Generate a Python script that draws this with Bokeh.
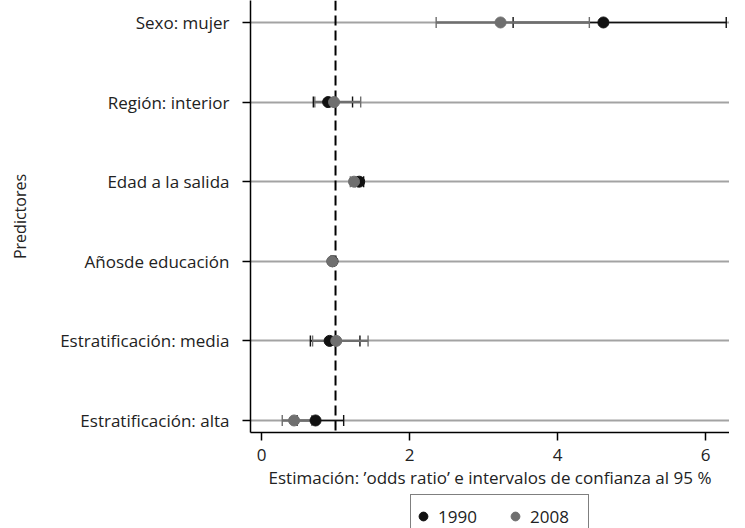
from bokeh.plotting import figure
from bokeh.layouts import column
from bokeh.models import (ColumnDataSource, Whisker, TeeHead, Span, Range1d,
                          FixedTicker, Legend, LegendItem)
from bokeh.embed import file_html
from bokeh.resources import INLINE

# ---- data ----
predictors = ["Estratificación: alta", "Estratificación: media", "Añosde educación",
              "Edad a la salida", "Región: interior", "Sexo: mujer"]
est_1990 = [0.73, 0.92, 0.96, 1.32, 0.90, 4.62]
low_1990 = [0.48, 0.66, 0.94, 1.27, 0.70, 3.40]
high_1990 = [1.11, 1.33, 0.98, 1.38, 1.23, 6.28]
est_2008 = [0.44, 1.01, 0.955, 1.25, 0.98, 3.23]
low_2008 = [0.28, 0.69, 0.94, 1.20, 0.72, 2.36]
high_2008 = [0.68, 1.44, 0.97, 1.30, 1.34, 4.43]
x_ticks = [0, 2, 4, 6]
years = ["1990", "2008"]
reference_or = 1.0
x_title = "Estimación: ’odds ratio’ e intervalos de confianza al 95 %"
y_title = "Predictores"

FONT = "Open Sans"
FS = "17px"
C1990 = "#111111"
C2008 = "#6f6f6f"

ys = list(range(len(predictors)))
src90 = ColumnDataSource(dict(y=ys, est=est_1990, lo=low_1990, hi=high_1990))
src08 = ColumnDataSource(dict(y=ys, est=est_2008, lo=low_2008, hi=high_2008))

p = figure(frame_width=479, frame_height=432, output_backend="svg", toolbar_location=None,
           x_range=Range1d(-0.149, 6.324), y_range=Range1d(-0.151, 5.276),
           min_border_left=250, min_border_top=0, min_border_right=0,
           min_border_bottom=0, outline_line_color=None,
           background_fill_color="white", border_fill_color="white")

# grid: horizontal grey lines at each predictor
p.xgrid.visible = False
p.ygrid.ticker = FixedTicker(ticks=ys)
p.ygrid.grid_line_color = "#a3a3a3"
p.ygrid.grid_line_width = 2

# reference line at OR = 1
p.add_layout(Span(location=reference_or, dimension="height", line_color="black",
                  line_width=2, line_dash="10 5", level="underlay"))

# CIs and points
for src, col, lw in ((src90, C1990, 1.6), (src08, C2008, 2.4)):
    p.add_layout(Whisker(source=src, base="y", lower="lo", upper="hi", dimension="width",
                         line_color=col, line_width=lw,
                         lower_head=TeeHead(size=11, line_color=col, line_width=1.4),
                         upper_head=TeeHead(size=11, line_color=col, line_width=1.4)))

p.scatter("est", "y", source=src90, size=11, fill_color=C1990, line_color=C1990)
p.scatter("est", "y", source=src08, size=11, fill_color=C2008, line_color=C2008)

# axes
xa = p.xaxis[0]
xa.ticker = FixedTicker(ticks=x_ticks)
xa.axis_label = x_title
ya = p.yaxis[0]
ya.ticker = FixedTicker(ticks=ys)
ya.major_label_overrides = {i: n for i, n in zip(ys, predictors)}
ya.axis_label = y_title
for ax in (xa, ya):
    ax.axis_line_color = "black"
    ax.axis_line_width = 1.5
    ax.major_tick_line_color = "black"
    ax.major_tick_line_width = 1.5
    ax.major_tick_in = 0
    ax.major_tick_out = 8
    ax.minor_tick_line_color = None
    ax.major_label_text_font = FONT
    ax.major_label_text_font_size = FS
    ax.major_label_text_color = "#222222"
    ax.axis_label_text_font = FONT
    ax.axis_label_text_font_size = FS
    ax.axis_label_text_font_style = "normal"
    ax.axis_label_text_color = "#222222"
ya.axis_label_text_font_size = "16px"
xa.major_label_standoff = 8
xa.axis_label_standoff = 2
ya.major_label_standoff = 13
ya.axis_label_standoff = 26

# ---- legend strip below the chart ----
LEG_H = 38
q = figure(width=729, height=LEG_H, output_backend="svg", toolbar_location=None,
           x_range=Range1d(0, 1), y_range=Range1d(0, 1),
           x_axis_location=None, y_axis_location=None,
           min_border_left=0, min_border_right=0, min_border_top=0, min_border_bottom=0,
           outline_line_color=None, background_fill_color="white",
           border_fill_color="white")
q.grid.visible = False
nan = float("nan")
l90 = q.scatter("x", "y", source=ColumnDataSource(dict(x=[nan], y=[nan])), size=11,
                fill_color=C1990, line_color=C1990)
l08 = q.scatter("x", "y", source=ColumnDataSource(dict(x=[nan], y=[nan])), size=11,
                fill_color=C2008, line_color=C2008)
legend = Legend(items=[LegendItem(label=years[0], renderers=[l90]),
                       LegendItem(label=years[1], renderers=[l08])],
                location=(160, -9), orientation="horizontal",
                border_line_color="black", border_line_width=1,
                background_fill_color="white", background_fill_alpha=1,
                padding=1, margin=0, spacing=9, glyph_width=22, glyph_height=40,
                label_standoff=4, label_width=57, label_height=40,
                label_text_font=FONT, label_text_font_size=FS,
                label_text_color="#222222")
q.add_layout(legend, "center")

open("out.html", "w").write(file_html(column(p, q, spacing=0), INLINE))
